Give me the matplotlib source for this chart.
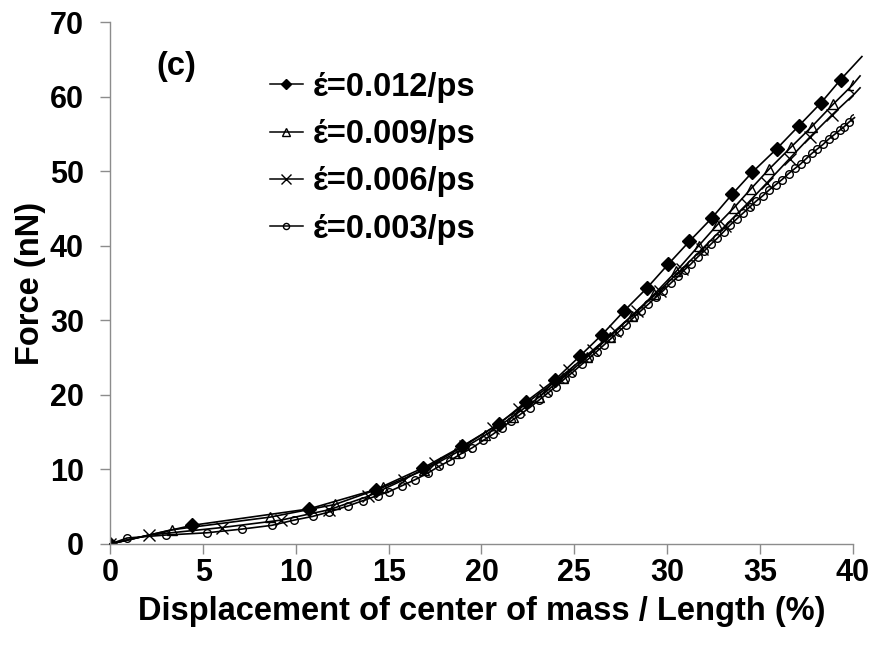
import matplotlib
matplotlib.use('Agg')
import matplotlib.pyplot as plt
from matplotlib.lines import Line2D

plt.rcParams['font.family'] = ['Liberation Sans', 'DejaVu Sans']
plt.rcParams['font.weight'] = 'bold'

# strain rate 0.012/ps
x_012 = [0, 4.4, 10.7, 14.3, 16.85, 18.95, 20.95, 22.4, 23.95, 25.3, 26.5, 27.7,
         28.9, 30.05, 31.2, 32.4, 33.5, 34.6, 35.9, 37.1, 38.3, 39.35, 40.5]
f_012 = [0, 2.5, 4.7, 7.3, 10.2, 13.1, 16.1, 19.1, 22.0, 25.2, 28.1, 31.3,
         34.3, 37.5, 40.6, 43.7, 46.9, 49.9, 53.0, 56.1, 59.2, 62.3, 65.4]

# strain rate 0.009/ps
x_009 = [0, 3.3, 8.6, 12.1, 14.7, 16.9, 18.6, 20.2, 21.7, 23.1, 24.4, 25.7, 26.9,
         28.1, 29.3, 30.5, 31.7, 32.7, 33.6, 34.5, 35.5, 36.7, 37.8, 38.95, 40.0, 40.4]
f_009 = [0, 1.9, 3.6, 5.3, 7.6, 9.9, 12.2, 14.6, 17.1, 19.7, 22.3, 25.1, 27.8,
         30.6, 33.5, 36.6, 40.0, 42.8, 45.1, 47.6, 50.3, 53.3, 56.0, 59.0, 61.6, 62.8]

# strain rate 0.006/ps
x_006 = [0, 2.1, 6.0, 9.2, 11.8, 13.9, 15.8, 17.5, 19.1, 20.6, 22.0, 23.4, 24.7,
         26.0, 27.2, 28.4, 29.6, 30.8, 31.9, 33.1, 34.3, 35.4, 36.6, 37.7, 38.9,
         40.1, 40.4]
f_006 = [0, 1.2, 2.2, 3.2, 4.6, 6.4, 8.6, 10.9, 13.2, 15.6, 18.1, 20.7, 23.3,
         26.0, 28.6, 31.3, 34.0, 36.9, 39.6, 42.6, 45.6, 48.5, 51.7, 54.6, 57.6,
         60.4, 61.2]

# strain rate 0.003/ps
x_003 = [0, 0.9, 3.0, 5.2, 7.1, 8.7, 9.9, 10.9, 11.8, 12.8, 13.6, 14.4,
         15.0, 15.7, 16.4, 17.1, 17.7, 18.3, 18.9, 19.5, 20.1, 20.6, 21.1, 21.6,
         22.1, 22.6, 23.1, 23.6, 24.0, 24.5, 24.9, 25.4, 25.8, 26.2, 26.6, 27.0,
         27.4, 27.8, 28.2, 28.6, 29.0, 29.4, 29.8, 30.2, 30.6, 30.95, 31.3, 31.65,
         32.0, 32.35, 32.7, 33.05, 33.4, 33.75, 34.1, 34.45, 34.8, 35.15, 35.5,
         35.85, 36.2, 36.55, 36.9, 37.2, 37.5, 37.8, 38.1, 38.4, 38.7, 39.0, 39.3,
         39.55, 39.8, 40.1]
f_003 = [0, 0.8, 1.2, 1.5, 2.0, 2.5, 3.2, 3.7, 4.3, 5.1, 5.8, 6.5,
         7.0, 7.8, 8.6, 9.5, 10.4, 11.2, 12.1, 12.9, 13.9, 14.7, 15.6, 16.5,
         17.4, 18.3, 19.3, 20.3, 21.1, 22.2, 23.0, 24.1, 24.9, 25.8, 26.7, 27.6,
         28.5, 29.4, 30.4, 31.3, 32.2, 33.1, 34.0, 35.0, 35.9, 36.8, 37.6, 38.5,
         39.3, 40.2, 41.0, 41.9, 42.8, 43.6, 44.4, 45.2, 46.0, 46.7, 47.5,
         48.2, 48.9, 49.7, 50.4, 51.0, 51.7, 52.4, 53.0, 53.6, 54.3, 54.9, 55.5,
         56.0, 56.6, 57.2]

labels = ['\u03ad=0.012/ps', '\u03ad=0.009/ps', '\u03ad=0.006/ps', '\u03ad=0.003/ps']
x_ticks = [0, 5, 10, 15, 20, 25, 30, 35, 40]
y_ticks = [0, 10, 20, 30, 40, 50, 60, 70]

fig = plt.figure(figsize=(8.79, 6.55), dpi=100)
ax = fig.add_axes([0.1255, 0.1695, 0.8445, 0.7965])

styles = [
    dict(marker='D', markersize=7, markerfacecolor='black'),
    dict(marker='^', markersize=7.5, markerfacecolor='none'),
    dict(marker='x', markersize=9),
    dict(marker='o', markersize=5.5, markerfacecolor='none'),
]
series = [(x_012, f_012), (x_009, f_009), (x_006, f_006), (x_003, f_003)]

handles = []
for (xs, ys), st in zip(series, styles):
    # the curve runs slightly past the 40 % end of the axis
    ax.plot(xs, ys, color='black', linewidth=1.2, clip_on=False)
    last = len(xs) if xs[-1] <= 40.15 else len(xs) - 1
    ax.plot(xs[:last], ys[:last], linestyle='none', markeredgecolor='black',
            markeredgewidth=1.0, **st)
    handles.append(Line2D([], [], color='black', linewidth=1.1,
                          markeredgecolor='black', markeredgewidth=1.0,
                          **dict(st, markersize=st['markersize'] * 0.8)))

ax.set_xlim(0, 40)
ax.set_ylim(0, 70)
ax.set_xticks(x_ticks)
ax.set_yticks(y_ticks)
for side in ['top', 'right']:
    ax.spines[side].set_visible(False)
for side in ['left', 'bottom']:
    ax.spines[side].set_color('#8c8c8c')
    ax.spines[side].set_linewidth(1.0)
ax.tick_params(axis='both', colors='#8c8c8c', length=7, width=1.0,
               labelcolor='black', labelsize=22)
ax.tick_params(axis='y', pad=12)
ax.tick_params(axis='x', pad=3)

ax.set_xlabel('Displacement of center of mass / Length (%)', fontsize=23.5,
              fontweight='bold')
ax.xaxis.set_label_coords(0.5, -0.1)
ax.set_ylabel('Force (nN)', fontsize=23.5, fontweight='bold')
ax.yaxis.set_label_coords(-0.087, 0.5)
ax.text(2.5, 64.0, '(c)', fontsize=23.5, fontweight='bold', va='center')

ax.legend(handles, labels, loc='upper left', bbox_to_anchor=(0.215, 0.905),
          frameon=False, fontsize=23.5, handlelength=1.0, handletextpad=0.3,
          labelspacing=0.5, borderaxespad=0, borderpad=0)

fig.savefig('out.png', dpi=100)
